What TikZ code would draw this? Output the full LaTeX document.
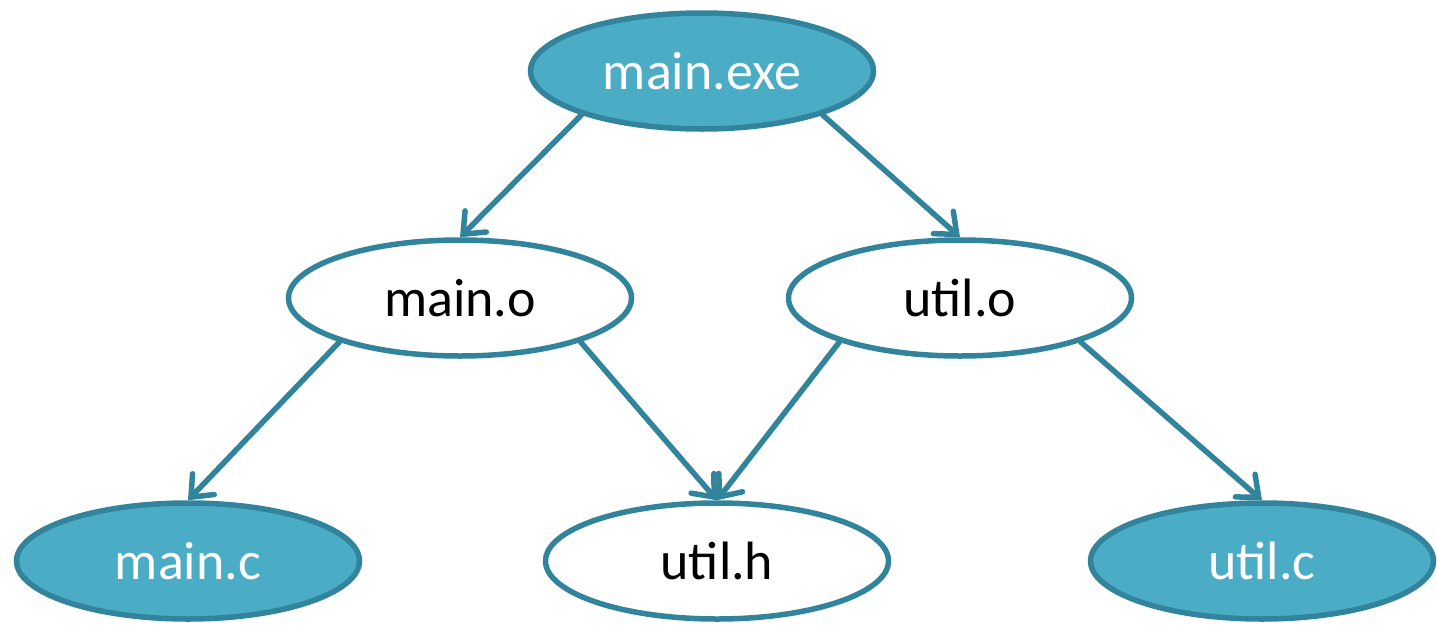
\documentclass[tikz,border=0pt]{standalone}
\usepackage{fontspec}
\setmainfont{Carlito}
\usetikzlibrary{shapes.geometric,arrows.meta}
\definecolor{fillblue}{HTML}{4BACC6}
\definecolor{edgeblue}{HTML}{31849B}
\begin{document}
\begin{tikzpicture}[x=1pt,y=-1pt,
  fnode/.style={ellipse,draw=edgeblue,line width=5.5pt,minimum width=343pt,minimum height=116pt,inner sep=0pt,font=\fontsize{54}{62}\selectfont},
  filled/.style={fnode,fill=fillblue,text=white},
  plain/.style={fnode,fill=white,text=black},
  link/.style={draw=edgeblue,line width=5.5pt,line cap=round,-{Straight Barb[length=18pt,width=30pt,line cap=round]}}]
\useasboundingbox (0,0) rectangle (1437,627);
\node[filled] (mexe) at (702,71) {main.exe};
\node[plain] (mo) at (460,298) {main.o};
\node[plain] (uo) at (960,298) {util.o};
\node[filled] (mc) at (188,561) {main.c};
\node[plain] (uh) at (717,561) {util.h};
\node[filled] (uc) at (1262,561) {util.c};
\draw[link] (mexe.200) -- (mo.north);
\draw[link] (mexe.340) -- (uo.north);
\draw[link] (mo.200) -- (mc.north);
\draw[link] (mo.340) -- (uh.north);
\draw[link] (uo.200) -- (uh.north);
\draw[link] (uo.340) -- (uc.north);
\end{tikzpicture}
\end{document}
